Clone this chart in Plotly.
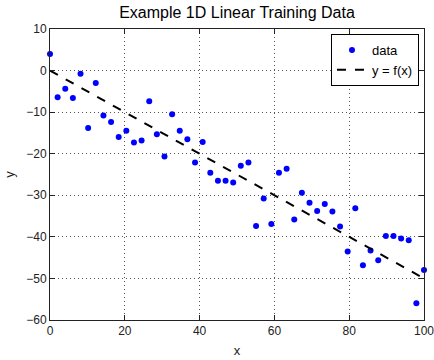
import plotly.graph_objects as go

x_data = [0.00, 2.04, 4.08, 6.12, 8.16, 10.20, 12.24, 14.29, 16.33, 18.37,
          20.41, 22.45, 24.49, 26.53, 28.57, 30.61, 32.65, 34.69, 36.73, 38.78,
          40.82, 42.86, 44.90, 46.94, 48.98, 51.02, 53.06, 55.10, 57.14, 59.18,
          61.22, 63.27, 65.31, 67.35, 69.39, 71.43, 73.47, 75.51, 77.55, 79.59,
          81.63, 83.67, 85.71, 87.76, 89.80, 91.84, 93.88, 95.92, 97.96, 100.00]
y_data = [4.0, -6.4, -4.35, -6.6, -0.75, -13.8, -3.0, -10.8, -12.4, -16.0,
          -14.5, -17.3, -16.8, -7.4, -15.3, -20.7, -10.5, -14.5, -16.5, -22.1,
          -17.2, -24.6, -26.5, -26.5, -26.9, -22.9, -22.1, -37.4, -30.8, -36.9,
          -24.6, -23.6, -35.8, -29.4, -31.8, -33.8, -32.1, -33.9, -37.5, -43.5,
          -33.1, -46.8, -43.3, -45.6, -39.8, -39.8, -40.4, -40.8, -56.0, -48.0]
line_x = [0, 100]
line_y = [0, -50]

title_text = "Example 1D Linear Training Data"
x_ticks = [0, 20, 40, 60, 80, 100]
y_ticks = [-60, -50, -40, -30, -20, -10, 0, 10]

FONT = "Liberation Sans, Arial, sans-serif"

fig = go.Figure()
fig.add_trace(go.Scatter(x=x_data, y=y_data, mode="markers", name="data",
                         marker=dict(color="#0000ff", size=6),
                         cliponaxis=False))
fig.add_trace(go.Scatter(x=line_x, y=line_y, mode="lines", name="y = f(x)",
                         line=dict(color="black", width=2, dash="dash")))

axis_common = dict(
    showline=True, linecolor="#222", linewidth=1, mirror="ticks",
    ticks="inside", ticklen=5, tickcolor="#222", automargin=False,
    ticklabeloverflow="allow",
    showgrid=True, gridcolor="#555", griddash="1px,3px", gridwidth=1,
    zeroline=False, tickfont=dict(family=FONT, size=12, color="#222"),
)

fig.update_layout(
    width=434, height=360,
    margin=dict(l=50, r=10, t=29, b=40),
    paper_bgcolor="white", plot_bgcolor="white",
    title=dict(text=title_text, x=(50 + 424) / 2 / 434, xanchor="center",
               y=1 - 12 / 360, yanchor="middle", automargin=False,
               font=dict(family=FONT, size=16, color="black")),
    xaxis=dict(range=[0, 100], tickvals=x_ticks,
               title=dict(text="x", font=dict(family=FONT, size=13, color="#222"), standoff=8),
               **axis_common),
    yaxis=dict(range=[-60, 10], tickvals=y_ticks,
               title=dict(text="y", font=dict(family=FONT, size=13, color="#222"), standoff=8),
               **axis_common),
    legend=dict(x=0.9866, y=0.983, xanchor="right", yanchor="top",
                bgcolor="white", bordercolor="black", borderwidth=1,
                font=dict(family=FONT, size=13, color="black")),
    showlegend=True,
)

fig.write_html("out.html", config={"displayModeBar": False},
               post_script="document.body.style.margin='0';document.body.style.padding='0';")
